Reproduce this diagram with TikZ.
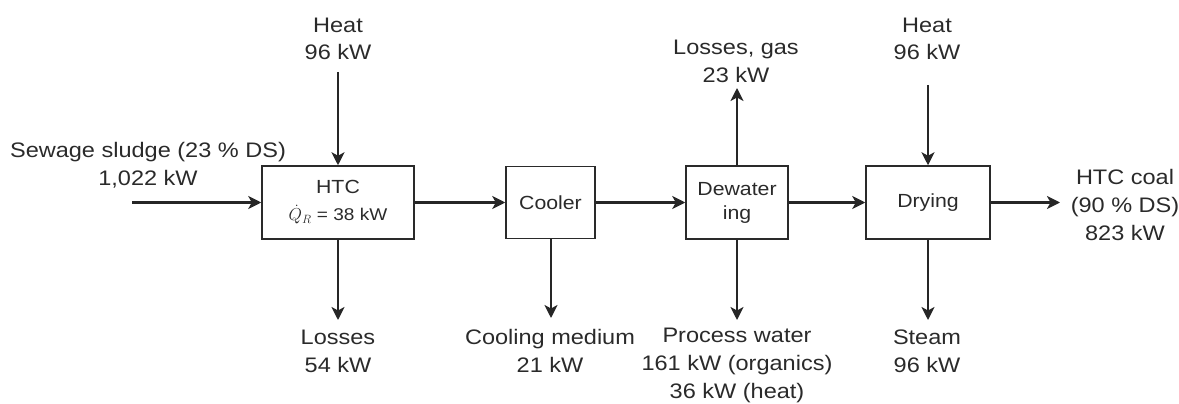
\documentclass[tikz,border=0pt]{standalone}
\usepackage{fontspec}
\setmainfont{Liberation Sans}[FakeStretch=1.12]
\usetikzlibrary{arrows.meta}
\definecolor{txt}{HTML}{2A2A2A}
\begin{document}
\begin{tikzpicture}[x=1pt,y=-1pt,
  lbl/.style={font=\fontsize{21}{28}\selectfont, align=center, anchor=base, inner sep=0pt, text=txt},
  box/.style={draw=txt, line width=1.5pt, inner sep=0pt, align=center, text=txt,
              font=\fontsize{19}{24}\selectfont},
  arr/.style={draw=black!85, line width=2.2pt, -{Stealth[length=13pt,width=13pt,inset=3.5pt]}}]
\useasboundingbox (0,0) rectangle (1179,404);

% process boxes
\node[box, minimum width=152pt, minimum height=73pt] (htc) at (338,202.5)
  {HTC\\[3pt]{\fontsize{17}{17}\selectfont $\dot{Q}_R$ = 38 kW}};
\node[box, minimum width=89pt, minimum height=72pt] (cool) at (550.5,202.5) {Cooler};
\node[box, minimum width=102pt, minimum height=73pt] (dew) at (737,202.5) {Dewater\\ing};
\node[box, minimum width=124pt, minimum height=73pt] (dry) at (928,202.5) {Drying};

% labels (anchor = baseline of last line)
\node[lbl] (sew) at (148,185) {Sewage sludge (23 \% DS)\\1,022 kW};
\node[lbl] (heatA) at (338,60) {Heat\\96 kW};
\node[lbl] (gas) at (736,82) {Losses, gas\\23 kW};
\node[lbl] (heatB) at (927,60) {Heat\\96 kW};
\node[lbl] (coal) at (1125,240) {HTC coal\\(90 \% DS)\\823 kW};
\node[lbl] (loss) at (338,372) {Losses\\54 kW};
\node[lbl] (cm) at (550,372) {Cooling medium\\21 kW};
\node[lbl] (pw) at (737,398) {Process water\\161 kW (organics)\\36 kW (heat)};
\node[lbl] (steam) at (927,372) {Steam\\96 kW};

% free ends
\coordinate (sewS) at (132,202.5);
\coordinate (heatAS) at (338,72);
\coordinate (heatBS) at (928,85);
\coordinate (gasE) at (737,88);
\coordinate (lossE) at (338,320);
\coordinate (cmE) at (551,318);
\coordinate (pwE) at (737,320);
\coordinate (steamE) at (928,320);
\coordinate (coalE) at (1060,202.5);

% connectors
\draw[arr] (sewS) -- (htc.west);
\draw[arr] (htc.east) -- (cool.west);
\draw[arr] (cool.east) -- (dew.west);
\draw[arr] (dew.east) -- (dry.west);
\draw[arr] (dry.east) -- (coalE);
\draw[arr] (heatAS) -- (htc.north);
\draw[arr] (heatBS) -- (dry.north);
\draw[arr] (dew.north) -- (gasE);
\draw[arr] (htc.south) -- (lossE);
\draw[arr] (cool.south -| cmE) -- (cmE);
\draw[arr] (dew.south) -- (pwE);
\draw[arr] (dry.south) -- (steamE);
\end{tikzpicture}
\end{document}
